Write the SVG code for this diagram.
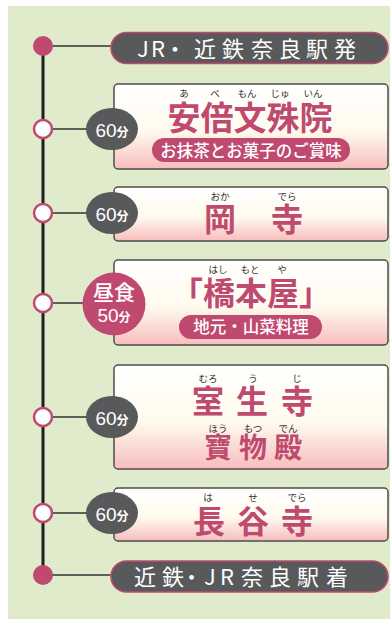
<svg xmlns="http://www.w3.org/2000/svg" width="390" height="619" viewBox="0 0 390 619">
<style>
.cjk{font-family:"Noto Sans CJK JP","Noto Sans",sans-serif}
.box{stroke:#4d4d4f;stroke-width:1.5;fill:url(#g)}
.pill{fill:#58595b;stroke:#c0496f;stroke-width:1.6}
.pilltxt{fill:#fff;font-size:22px;font-weight:400}
.dot{fill:#fff;stroke:#c0496f;stroke-width:2.5}
.fdot{fill:#c0496f}
.conn{stroke:#333;stroke-width:1.3;fill:none}
.dur{fill:#58595b}
.durtxt{fill:#fff;font-family:"Liberation Sans","Noto Sans CJK JP",sans-serif;font-size:19px;text-anchor:middle}
.main{fill:#bf4a6f;font-weight:700;text-anchor:middle}
.ruby{fill:#333;font-size:9.5px;text-anchor:middle}
.sub{fill:#c0496f}
.subtxt{fill:#fff;font-size:16.5px;font-weight:500;text-anchor:middle}
</style>
<defs>
<linearGradient id="g" x1="0" y1="0" x2="0" y2="1">
<stop offset="0" stop-color="#ffffff"/>
<stop offset="0.55" stop-color="#fffbee"/>
<stop offset="1" stop-color="#f7bdbd"/>
</linearGradient>
</defs>
<rect x="8" y="6" width="382" height="613" fill="#dfebca"/>
<g id="connectors">
<line x1="43" y1="46" x2="43" y2="575" stroke="#231f20" stroke-width="3"/>
<line class="conn" x1="43" y1="46" x2="112" y2="46"/>
<line class="conn" x1="43" y1="129" x2="90" y2="129"/>
<line class="conn" x1="43" y1="213" x2="90" y2="213"/>
<line class="conn" x1="43" y1="303" x2="85" y2="303"/>
<line class="conn" x1="43" y1="417" x2="90" y2="417"/>
<line class="conn" x1="43" y1="513" x2="90" y2="513"/>
<line class="conn" x1="43" y1="575" x2="112" y2="575"/>
<circle class="fdot" cx="43" cy="46" r="10"/>
<circle class="dot" cx="43" cy="129" r="9"/>
<circle class="dot" cx="43" cy="213" r="9"/>
<circle class="dot" cx="43" cy="303" r="9"/>
<circle class="dot" cx="43" cy="417" r="9"/>
<circle class="dot" cx="43" cy="513" r="9"/>
<circle class="fdot" cx="43" cy="575" r="10"/>
</g>
<g id="start">
<rect class="pill" x="111" y="32.5" width="277" height="31" rx="15.5"/>
<text class="cjk pilltxt" x="137 151 164 194 222 251 279 306 334" y="56.5">JR・近鉄奈良駅発</text>
</g>
<g id="abemonjuin">
<rect class="box" x="114" y="84" width="274" height="85" rx="4"/>
<g class="cjk ruby">
<text x="184" y="96.5">あ</text><text x="215" y="96.5">べ</text><text x="247" y="96.5">もん</text><text x="280" y="96.5">じゅ</text><text x="313" y="96.5">いん</text>
</g>
<text class="cjk main" x="250" y="130" font-size="33">安倍文殊院</text>
<rect class="sub" x="152" y="138" width="198" height="24" rx="12"/>
<text class="cjk subtxt" x="251" y="156.5">お抹茶とお菓子のご賞味</text>
<ellipse class="dur" cx="112" cy="129" rx="26" ry="21"/>
<text class="durtxt" x="112" y="137">60<tspan font-size="12" font-family="Noto Sans CJK JP, sans-serif" font-weight="700">分</tspan></text>
</g>
<g id="okadera">
<rect class="box" x="114" y="187" width="274" height="54" rx="4"/>
<g class="cjk ruby">
<text x="220" y="199.5">おか</text><text x="287" y="199.5">でら</text>
</g>
<g class="cjk main" font-size="32">
<text x="220" y="231">岡</text><text x="287" y="231">寺</text>
</g>
<ellipse class="dur" cx="112" cy="213" rx="26" ry="21"/>
<text class="durtxt" x="112" y="221">60<tspan font-size="12" font-family="Noto Sans CJK JP, sans-serif" font-weight="700">分</tspan></text>
</g>
<g id="hashimotoya">
<rect class="box" x="114" y="260" width="274" height="85" rx="4"/>
<g class="cjk ruby">
<text x="218" y="272.5">はし</text><text x="250" y="272.5">もと</text><text x="282" y="272.5">や</text>
</g>
<text class="cjk main" x="251" y="305" font-size="32">「橋本屋」</text>
<rect class="sub" x="179" y="315" width="143" height="24" rx="12"/>
<text class="cjk subtxt" x="251" y="333">地元・山菜料理</text>
<circle cx="114" cy="304" r="31.5" fill="#c0496f"/>
<text class="cjk" x="114" y="300" fill="#fff" font-size="21" font-weight="500" text-anchor="middle">昼食</text>
<text class="durtxt" x="114" y="322">50<tspan font-size="12" font-family="Noto Sans CJK JP, sans-serif" font-weight="700">分</tspan></text>
</g>
<g id="murouji">
<rect class="box" x="114" y="365" width="274" height="104" rx="4"/>
<g class="cjk ruby">
<text x="208" y="381.5">むろ</text><text x="253" y="381.5">う</text><text x="297" y="381.5">じ</text>
<text x="218" y="431.5">ほう</text><text x="253" y="431.5">もつ</text><text x="288" y="431.5">でん</text>
</g>
<g class="cjk main" font-size="32">
<text x="208" y="413">室</text><text x="252" y="413">生</text><text x="297" y="413">寺</text>
</g>
<g class="cjk main" font-size="28">
<text x="218" y="458">寶</text><text x="253" y="458">物</text><text x="288" y="458">殿</text>
</g>
<ellipse class="dur" cx="112" cy="417" rx="26" ry="21"/>
<text class="durtxt" x="112" y="425">60<tspan font-size="12" font-family="Noto Sans CJK JP, sans-serif" font-weight="700">分</tspan></text>
</g>
<g id="hasedera">
<rect class="box" x="114" y="488" width="274" height="53" rx="4"/>
<g class="cjk ruby">
<text x="208" y="500.5">は</text><text x="253" y="500.5">せ</text><text x="297" y="500.5">でら</text>
</g>
<g class="cjk main" font-size="32">
<text x="209" y="533">長</text><text x="253" y="533">谷</text><text x="297" y="533">寺</text>
</g>
<ellipse class="dur" cx="112" cy="513" rx="26" ry="21"/>
<text class="durtxt" x="112" y="521">60<tspan font-size="12" font-family="Noto Sans CJK JP, sans-serif" font-weight="700">分</tspan></text>
</g>
<g id="end">
<rect class="pill" x="111" y="561" width="277" height="31" rx="15.5"/>
<text class="cjk pilltxt" x="134 162 180.5 204 220 241 269 297 326" y="584.5">近鉄・JR奈良駅着</text>
</g>
</svg>
